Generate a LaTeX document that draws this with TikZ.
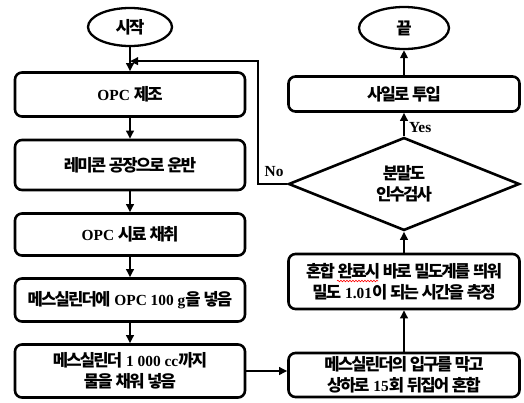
\documentclass[tikz,border=0pt]{standalone}
\usepackage{fontspec}
\setmainfont{Liberation Serif}[Scale=1.1]
\newfontfamily\krfont{Noto Sans CJK KR}[Scale=1.19,LetterSpace=-11,WordSpace=1.4]
\newcommand\kor[1]{{\krfont\bfseries #1}}
\usetikzlibrary{shapes.geometric,arrows.meta,decorations.pathmorphing,calc}
\begin{document}
\begin{tikzpicture}[x=1pt,y=1pt,
  font=\fontsize{14}{21.5}\selectfont\bfseries,
  box/.style={draw,line width=2.6pt,rounded corners=7pt,minimum width=230pt,align=center,inner sep=2pt},
  term/.style={draw,line width=2.3pt,ellipse,inner sep=0pt},
  dec/.style={draw,line width=2.6pt,diamond,minimum width=231pt,minimum height=75pt,inner sep=0pt,align=center},
  arr/.style={line width=2pt,-{Triangle[length=8pt,width=7.5pt]}},
  lbl/.style={inner sep=1pt}
]
\useasboundingbox (0,0) rectangle (524,-402);
% left column
\node[term,minimum width=84pt,minimum height=38pt] (start) at (130,-27) {\kor{시작}};
\node[box,minimum height=44pt] (b1) at (130,-94.5) {OPC \kor{제조}};
\node[box,minimum height=50pt] (b2) at (130,-165) {\kor{레미콘 공장으로 운반}};
\node[box,minimum height=42pt] (b3) at (130,-234.5) {OPC \kor{시료 채취}};
\node[box,minimum height=43pt] (b4) at (130,-300) {\kor{메스실린더에} OPC 100 g\kor{을 넣음}};
\node[box,minimum height=53pt] (b5) at (130,-371) {\kor{메스실린더} 1 000 cc\kor{까지}\\\kor{물을 채워 넣음}};
% right column
\node[term,minimum width=90pt,minimum height=42pt] (end) at (404,-28) {\kor{끝}};
\node[box,minimum width=231pt,minimum height=35pt] (r1) at (404,-94) {\kor{사일로 투입}};
\node[dec] (d) at (404,-184) {\kor{분말도}\\\kor{인수검사}};
\node[box,minimum width=231pt,minimum height=55pt] (r2) at (404,-281.5) {\kor{혼합 완료시 바로 밀도계를 띄워}\\\kor{밀도} 1.01\kor{이 되는 시간을 측정}};
\node[box,minimum width=231pt,minimum height=44pt] (r3) at (404,-375) {\kor{메스실린더의 입구를 막고}\\\kor{상하로} 15\kor{회 뒤집어 혼합}};
% arrows
\path (start.south) ++(0,-14) coordinate (j);
\draw[arr] (start.south) -- (b1.north);
\draw[arr] (b1.south) -- (b2.north);
\draw[arr] (b2.south) -- (b3.north);
\draw[arr] (b3.south) -- (b4.north);
\draw[arr] (b4.south) -- (b5.north);
\draw[arr] (b5.east) -- (b5.east -| r3.west);
\draw[arr] (r3.north) -- (r2.south);
\draw[arr] (r2.north) -- (d.south);
\draw[arr] (d.north) -- node[lbl,right,pos=0.38,xshift=3pt]{Yes} (r1.south);
\draw[arr] (r1.north) -- (end.south);
\coordinate (c1) at ($(d.west)+(-29,0)$);
\draw[arr] (d.west) -- node[lbl,above,pos=0.45,yshift=5pt]{No} (c1) |- (j);
\draw[red,line width=0.6pt,decorate,decoration={snake,amplitude=0.8pt,segment length=3pt}] (337,-281) -- (378,-281);
\end{tikzpicture}
\end{document}
